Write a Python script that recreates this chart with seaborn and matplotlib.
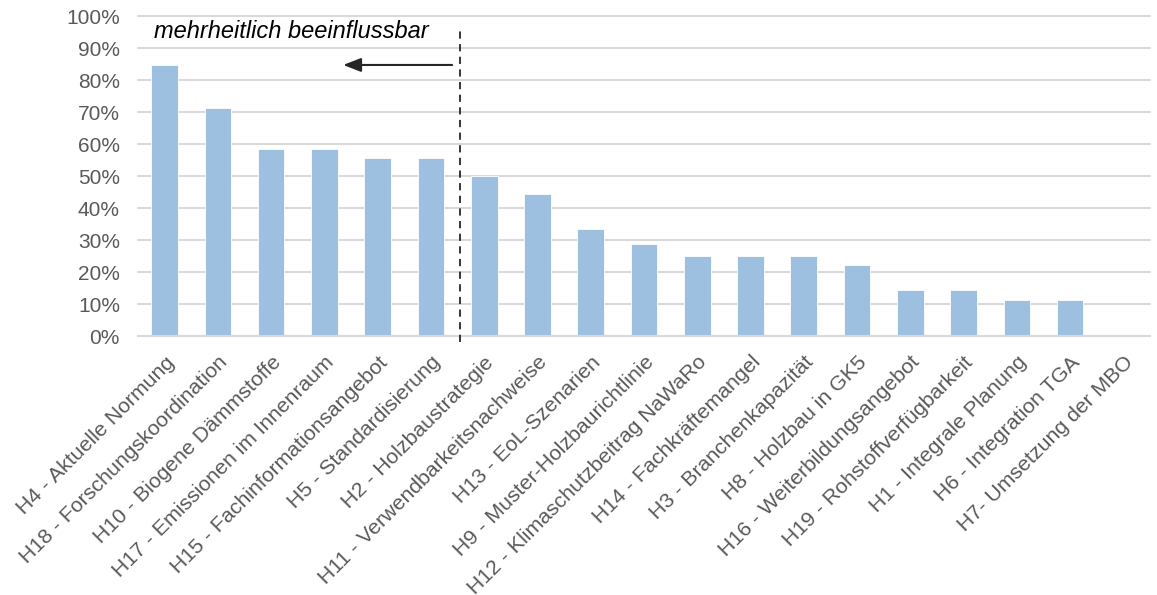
import matplotlib
matplotlib.use("Agg")
import matplotlib.pyplot as plt
import seaborn as sns
import pandas as pd
from matplotlib.ticker import PercentFormatter, FixedLocator

categories = [
    "H4 - Aktuelle Normung", "H18 - Forschungskoordination", "H10 - Biogene Dämmstoffe",
    "H17 - Emissionen im Innenraum", "H15 - Fachinformationsangebot", "H5 - Standardisierung",
    "H2 - Holzbaustrategie", "H11 - Verwendbarkeitsnachweise", "H13 - EoL-Szenarien",
    "H9 - Muster-Holzbaurichtlinie", "H12 - Klimaschutzbeitrag NaWaRo", "H14 - Fachkräftemangel",
    "H3 - Branchenkapazität", "H8 - Holzbau in GK5", "H16 - Weiterbildungsangebot",
    "H19 - Rohstoffverfügbarkeit", "H1 - Integrale Planung", "H6 - Integration TGA",
    "H7- Umsetzung der MBO",
]
values = [84.6, 71.4, 58.3, 58.3, 55.6, 55.6, 50.0, 44.4, 33.3, 28.6, 25.0, 25.0, 25.0,
          22.2, 14.3, 14.3, 11.1, 11.1, 0.0]
annotation_text = "mehrheitlich beeinflussbar"

sns.set_theme(style="white")
plt.rcParams['font.family'] = ['Liberation Sans', 'DejaVu Sans']

df = pd.DataFrame({"cat": categories, "val": [v / 100 for v in values]})

fig = plt.figure(figsize=(11.57, 5.95), dpi=100)
ax = fig.add_axes([138 / 1157, 1 - 336 / 595, 1012 / 1157, 320 / 595])

grid_c = "#D9D9D9"
text_c = "#595959"
ax.set_axisbelow(True)
ax.yaxis.grid(True, color=grid_c, linewidth=1.5)

sns.barplot(data=df, x="cat", y="val", color="#9DC0E1", saturation=1, width=0.5,
            edgecolor="white", linewidth=0.6, ax=ax)

ax.set_xlim(-0.5, len(categories) - 0.5)
ax.set_ylim(0, 1.0)
ax.set_yticks([i / 10 for i in range(11)])
ax.yaxis.set_major_formatter(PercentFormatter(1.0, decimals=0))
ax.set_xlabel("")
ax.set_ylabel("")
for gl in ax.get_ygridlines():
    gl.set_clip_on(False)

for s in ["top", "right", "left"]:
    ax.spines[s].set_visible(False)
ax.spines["bottom"].set_color(grid_c)
ax.spines["bottom"].set_linewidth(1.5)

ax.tick_params(axis="y", length=0, labelsize=15, labelcolor=text_c, pad=13)
ax.set_xticks(range(len(categories)))
ax.set_xticklabels(categories, rotation=45, ha="right", rotation_mode="anchor",
                   fontsize=15.3, color=text_c)
ax.tick_params(axis="x", length=0, pad=12)
ax.xaxis.set_minor_locator(FixedLocator([i - 0.5 for i in range(len(categories) + 1)]))
ax.tick_params(axis="x", which="minor", length=6, width=1.3, color=grid_c, direction="out")

# dashed separator
ax.plot([5.55, 5.55], [-0.02, 0.965], color="#262626", linestyle=(0, (4, 3)),
        linewidth=1.3, clip_on=False, zorder=5)
ax.text(-0.2, 0.953, annotation_text, fontsize=17, style="italic", color="black",
        va="center", ha="left")
ax.annotate("", xy=(3.3, 0.847), xytext=(5.45, 0.847),
            arrowprops=dict(arrowstyle="-|>,head_length=0.9,head_width=0.35",
                            color="#262626", linewidth=1.5))

fig.savefig("out.png", dpi=100)
